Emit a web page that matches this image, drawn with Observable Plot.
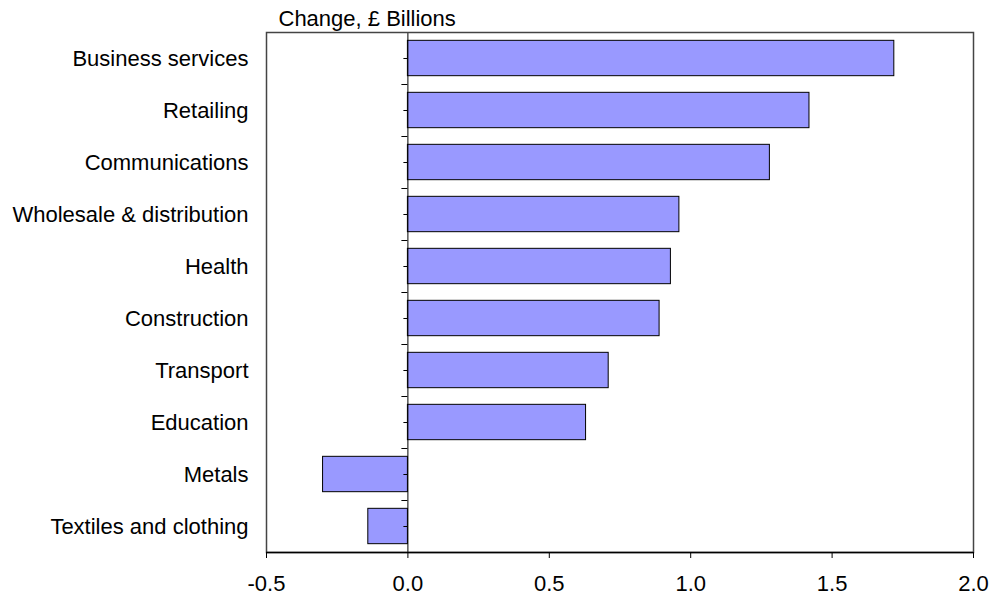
<!DOCTYPE html>
<html><head><meta charset="utf-8">
<script src="https://cdn.jsdelivr.net/npm/d3@7"></script>
<script src="https://cdn.jsdelivr.net/npm/@observablehq/plot@0.6"></script>
<style>body{margin:0;background:#fff} svg{display:block}</style>
</head><body><div id="chart"></div>
<script>
const categories = ["Business services", "Retailing", "Communications", "Wholesale & distribution", "Health", "Construction", "Transport", "Education", "Metals", "Textiles and clothing"];
const values = [1.72, 1.42, 1.28, 0.96, 0.93, 0.89, 0.71, 0.63, -0.30, -0.14];
const xTicks = [-0.5, 0, 0.5, 1, 1.5, 2];
const titleText = "Change, £ Billions";

const n = categories.length;
const rows = categories.map((c, i) => ({category: c, value: values[i], slot: n - 1 - i}));
const centers = rows.map(d => d.slot + 0.5);
const bounds = d3.range(1, n);
const labelOf = new Map(rows.map(d => [d.slot + 0.5, d.category]));
const ML = 266;

function build(zeroOffset) {
  return Plot.plot({
    width: 989, height: 597, marginLeft: ML, marginRight: 16, marginTop: 32, marginBottom: 45,
    style: {fontFamily: "'Liberation Sans', Arial, sans-serif", fontSize: "22px", color: "#000", background: "#fff"},
    x: {domain: [-0.5, 2]},
    y: {domain: [0, n]},
    marks: [
      Plot.rectX(rows, {x1: 0, x2: "value", y1: d => d.slot + 0.16, y2: d => d.slot + 0.84, fill: "#9999ff", stroke: "#000", strokeWidth: 1}),
      Plot.ruleX([0], {stroke: "#000", strokeWidth: 1}),
      Plot.frame({stroke: "#444", strokeWidth: 1.5}),
      Plot.ruleY([0], {stroke: "#000", strokeWidth: 1.5}),
      Plot.axisX(xTicks, {tickSize: 6, tickPadding: 17, tickFormat: d => d.toFixed(1), label: null, stroke: "#000"}),
      Plot.axisY(centers, {tickSize: 0, tickPadding: 18, tickFormat: d => labelOf.get(d), label: null}),
      zeroOffset == null ? null : Plot.axisY(bounds, {tickSize: 6, dx: zeroOffset, tickFormat: () => "", label: null, stroke: "#000"}),
      zeroOffset == null ? null : Plot.axisY(centers, {tickSize: 4, dx: zeroOffset, tickFormat: () => "", label: null, stroke: "#000"}),
      Plot.text([titleText], {text: d => d, frameAnchor: "top-left", dx: 12, dy: -7, textAnchor: "start", lineAnchor: "bottom", fontSize: 22, fill: "#000"})
    ]
  });
}
const first = build(null);
const zeroX = first.scale("x").apply(0);
document.getElementById("chart").append(build(zeroX - ML));
</script>
</body></html>
